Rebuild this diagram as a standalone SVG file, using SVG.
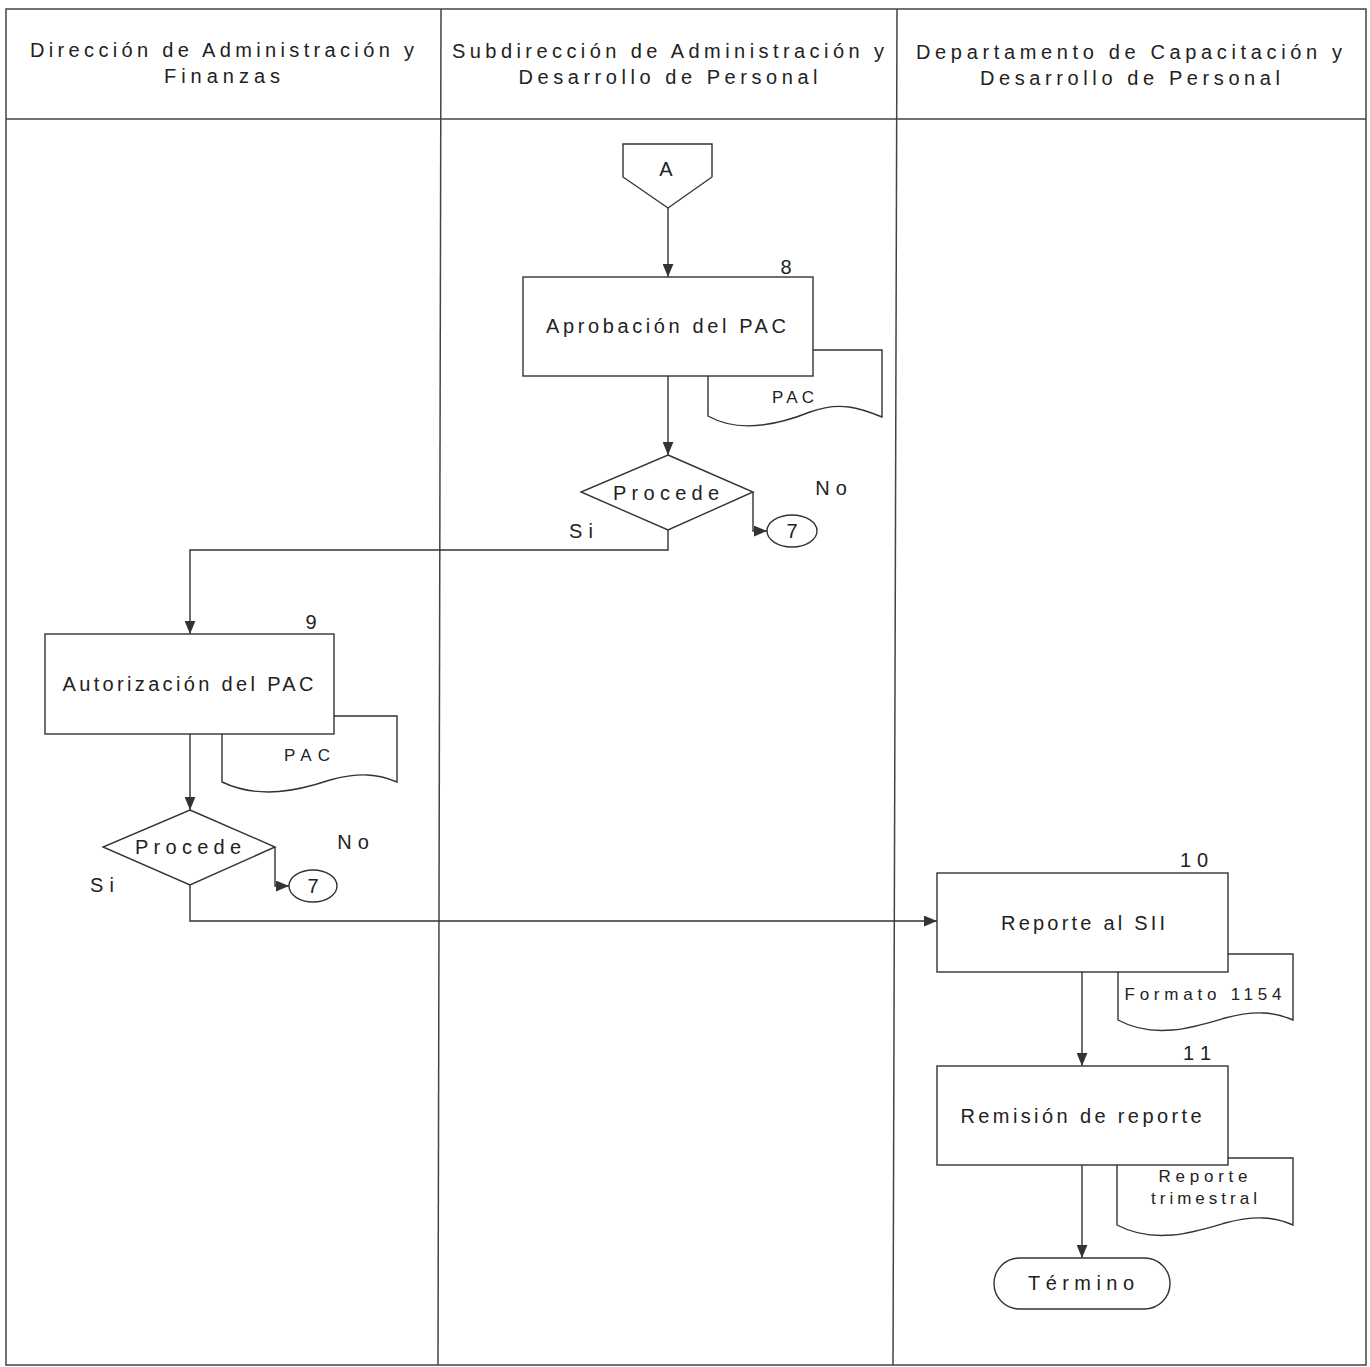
<svg xmlns="http://www.w3.org/2000/svg" width="1370" height="1367" viewBox="0 0 1370 1367">
<defs>
<marker id="ah" viewBox="0 0 12 10" refX="12" refY="5" markerWidth="13" markerHeight="11" markerUnits="userSpaceOnUse" orient="auto">
<path d="M0,0 L12,5 L0,10 Z" fill="#333"/>
</marker>
<style>
.frame{fill:none;stroke:#444;stroke-width:1.5}
.sh{fill:#fff;stroke:#333;stroke-width:1.4}
.ar{fill:none;stroke:#333;stroke-width:1.4;marker-end:url(#ah)}
text{font-family:"Liberation Sans",Arial,sans-serif;fill:#222;text-anchor:middle}
.hd{font-size:20px}
.tx{font-size:20px}
.nm{font-size:20px}
.sp{font-size:20px;letter-spacing:6px}
.sm{font-size:17px}
</style>
</defs>
<rect width="1370" height="1367" fill="#fff"/>
<g id="lanes">
<path class="frame" d="M6,9 L1366,9 L1366,1365 L6,1365 Z"/>
<line class="frame" x1="6" y1="119" x2="1366" y2="119"/>
<line class="frame" x1="441" y1="9" x2="438" y2="1365"/>
<line class="frame" x1="897" y1="9" x2="893" y2="1365"/>
<text class="hd" x="222" y="57" textLength="384" lengthAdjust="spacing">Dirección de Administración y</text>
<text class="hd" x="222" y="83" textLength="116" lengthAdjust="spacing">Finanzas</text>
<text class="hd" x="668" y="58" textLength="432" lengthAdjust="spacing">Subdirección de Administración y</text>
<text class="hd" x="668" y="84" textLength="299" lengthAdjust="spacing">Desarrollo de Personal</text>
<text class="hd" x="1129" y="59" textLength="426" lengthAdjust="spacing">Departamento de Capacitación y</text>
<text class="hd" x="1130" y="85" textLength="300" lengthAdjust="spacing">Desarrollo de Personal</text>
</g>
<g id="connectors">
<line class="ar" x1="668" y1="208" x2="668" y2="277"/>
<line class="ar" x1="668" y1="376" x2="668" y2="455"/>
<polyline class="ar" points="753,492 753,531 767,531"/>
<polyline class="ar" points="668,530 668,550 190,550 190,634"/>
<line class="ar" x1="190" y1="734" x2="190" y2="810"/>
<polyline class="ar" points="275,847 275,886 289,886"/>
<polyline class="ar" points="190,885 190,921 937,921"/>
<line class="ar" x1="1082" y1="972" x2="1082" y2="1066"/>
<line class="ar" x1="1082" y1="1165" x2="1082" y2="1258"/>
</g>
<g id="connA">
<path class="sh" d="M623,144 L712,144 L712,177 L668,208 L623,177 Z"/>
<text class="nm" x="666" y="176">A</text>
</g>
<g id="step8">
<path class="sh" d="M813,350 L882,350 L882,417 C860,408 840,401 810,412 C780,424 740,434 708,416 L708,376"/>
<rect class="sh" x="523" y="277" width="290" height="99"/>
<text class="nm" x="786" y="274">8</text>
<text class="tx" x="666" y="333" textLength="240" lengthAdjust="spacing">Aprobación del PAC</text>
<text class="sm" x="793" y="403" textLength="42" lengthAdjust="spacing">PAC</text>
</g>
<g id="decision1">
<path class="sh" d="M668,455 L753,492 L668,530 L581,492 Z"/>
<text class="hd" x="666" y="500" textLength="106" lengthAdjust="spacing">Procede</text>
<text class="sp" x="834" y="495">No</text>
<text class="sp" x="584" y="538">Si</text>
</g>
<g id="ref7a">
<ellipse class="sh" cx="792" cy="531" rx="25" ry="16"/>
<text class="nm" x="792" y="538">7</text>
</g>
<g id="step9">
<path class="sh" d="M334,716 L397,716 L397,782 C378,774 360,772 330,780 C300,790 260,800 222,782 L222,734"/>
<rect class="sh" x="45" y="634" width="289" height="100"/>
<text class="nm" x="311" y="629">9</text>
<text class="tx" x="188" y="691" textLength="251" lengthAdjust="spacing">Autorización del PAC</text>
<text class="sm" x="307" y="761" textLength="46" lengthAdjust="spacing">PAC</text>
</g>
<g id="decision2">
<path class="sh" d="M190,810 L275,847 L190,885 L103,847 Z"/>
<text class="hd" x="188" y="854" textLength="106" lengthAdjust="spacing">Procede</text>
<text class="sp" x="356" y="849">No</text>
<text class="sp" x="105" y="892">Si</text>
</g>
<g id="ref7b">
<ellipse class="sh" cx="313" cy="886" rx="24" ry="16"/>
<text class="nm" x="313" y="893">7</text>
</g>
<g id="step10">
<path class="sh" d="M1228,954 L1293,954 L1293,1020 C1275,1012 1255,1010 1225,1018 C1195,1027 1155,1040 1118,1020 L1118,972"/>
<rect class="sh" x="937" y="873" width="291" height="99"/>
<text class="nm" x="1194" y="867" textLength="28" lengthAdjust="spacing">10</text>
<text class="tx" x="1083" y="930" textLength="164" lengthAdjust="spacing">Reporte al SII</text>
<text class="sm" x="1203" y="1000" textLength="157" lengthAdjust="spacing">Formato 1154</text>
</g>
<g id="step11">
<path class="sh" d="M1228,1158 L1293,1158 L1293,1225 C1275,1217 1255,1215 1225,1223 C1195,1232 1155,1245 1117,1225 L1117,1165"/>
<rect class="sh" x="937" y="1066" width="291" height="99"/>
<text class="nm" x="1197" y="1060" textLength="28" lengthAdjust="spacing">11</text>
<text class="tx" x="1081" y="1123" textLength="241" lengthAdjust="spacing">Remisión de reporte</text>
<text class="sm" x="1203" y="1182" textLength="89" lengthAdjust="spacing">Reporte</text>
<text class="sm" x="1204" y="1204" textLength="106" lengthAdjust="spacing">trimestral</text>
</g>
<g id="termino">
<rect class="sh" x="994" y="1258" width="176" height="51" rx="25.5" ry="25.5"/>
<text class="hd" x="1081" y="1290" textLength="106" lengthAdjust="spacing">Término</text>
</g>
</svg>
